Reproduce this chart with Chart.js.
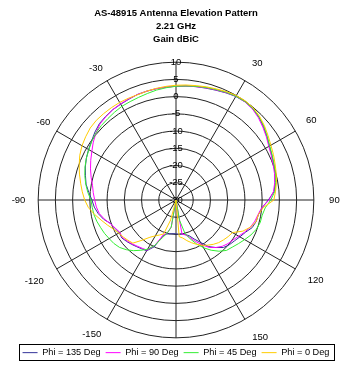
<!DOCTYPE html>
<html>
<head>
<meta charset="utf-8">
<script src="https://cdn.jsdelivr.net/npm/chart.js@4/dist/chart.umd.min.js"></script>
<style>
  html, body { margin: 0; padding: 0; background: #fff; }
  #wrap { width: 350px; height: 371px; }
</style>
</head>
<body>
<div id="wrap"><canvas id="chart" width="350" height="371"></canvas></div>
<script>
// elevation angle, clockwise from top, 5 deg steps
const angles = [
  0, 5, 10, 15, 20, 25, 30, 35, 40, 45, 50, 55, 60, 65, 70, 75, 80, 85,
  90, 95, 100, 105, 110, 115, 120, 125, 130, 135, 140, 145, 150, 155, 160, 165, 170, 175,
  180, -175, -170, -165, -160, -155, -150, -145, -140, -135, -130, -125, -120, -115, -110, -105, -100, -95,
  -90, -85, -80, -75, -70, -65, -60, -55, -50, -45, -40, -35, -30, -25, -20, -15, -10, -5
];

// gain in dBiC, same order as angles
const phi135 = [
  3.0, 3.2, 3.4, 3.6, 3.9, 4.3, 4.7, 4.8, 4.6, 4.0, 3.1, 2.2, 1.3, 0.7, 0.2, -0.2, -0.8, -1.4,
  -3.2, -4.9, -5.7, -5.9, -6.5, -7.8, -8.6, -9.3, -9.8, -10.5, -12.0, -13.5, -15.8, -17.5, -19.0, -19.6, -20.0, -20.0,
  -20.2, -20.2, -20.0, -19.8, -19.0, -15.0, -13.0, -12.7, -12.3, -11.8, -11.3, -10.8, -11.0, -10.5, -9.9, -8.3, -7.1, -6.2,
  -5.6, -4.6, -3.5, -2.8, -2.0, -1.3, -0.7, -0.1, 0.7, 1.4, 1.7, 2.0, 2.1, 2.3, 2.6, 2.7, 2.8, 2.9
];
const phi90 = [
  3.0, 3.2, 3.4, 3.7, 4.0, 4.4, 4.8, 4.8, 4.5, 3.8, 2.9, 2.0, 1.1, 0.5, 0.0, -0.4, -0.9, -1.6,
  -3.0, -5.0, -5.8, -6.3, -7.0, -8.0, -9.0, -9.8, -10.3, -11.0, -12.0, -13.2, -15.0, -16.8, -18.5, -19.5, -20.0, -30,
  -30, -30, -22, -20, -19.2, -15.5, -13.2, -12.9, -12.5, -12.0, -11.5, -11.0, -11.2, -10.6, -9.8, -8.5, -7.4, -6.8,
  -6.4, -5.9, -5.4, -4.5, -3.6, -2.7, -1.8, -0.7, 0.3, 1.2, 1.6, 2.0, 2.2, 2.4, 2.6, 2.7, 2.8, 2.9
];
const phi45 = [
  3.0, 3.2, 3.5, 3.8, 4.1, 4.5, 4.8, 4.9, 4.7, 4.1, 3.3, 2.3, 1.4, 0.8, 0.3, -0.1, -0.6, -1.2,
  -2.5, -4.0, -4.6, -4.7, -5.2, -6.0, -7.0, -7.9, -8.7, -9.3, -10.6, -12.2, -14.0, -16.0, -18.0, -20.0, -24, -30,
  -30, -30, -22, -20, -18.3, -15.5, -13.5, -12.2, -10.8, -9.6, -8.6, -8.0, -7.6, -7.1, -6.7, -6.2, -5.8, -5.6,
  -5.3, -4.3, -3.4, -2.6, -1.9, -1.3, -0.8, -0.2, 0.3, 0.6, 0.8, 1.1, 1.4, 1.5, 1.7, 2.0, 2.4, 2.7
];
const phi0 = [
  3.3, 3.5, 3.7, 4.0, 4.3, 4.7, 5.0, 5.1, 4.9, 4.3, 3.5, 2.6, 1.8, 1.2, 0.6, 0.1, -0.4, -1.0,
  -1.6, -4.6, -5.7, -5.9, -7.0, -8.6, -11.1, -11.5, -12.0, -12.5, -13.2, -14.0, -14.8, -15.8, -16.8, -17.8, -18.8, -19.3,
  -30, -30, -30, -24, -19.5, -18.8, -18.0, -16.8, -14.8, -12.3, -11.8, -11.3, -10.8, -10.0, -8.8, -7.5, -6.0, -4.5,
  -3.5, -2.7, -1.9, -1.0, -0.1, 0.8, 1.5, 2.0, 2.5, 2.7, 2.7, 2.7, 2.7, 2.6, 2.5, 2.7, 2.9, 3.1
];

const seriesNames = ['Phi = 135 Deg', 'Phi = 90 Deg', 'Phi = 45 Deg', 'Phi = 0 Deg'];
const seriesColors = ['#333399', '#ff00ff', '#33ee33', '#ffcc00'];
const ringMin = -30;
const ringMax = 10;
const ringStep = 5;

// distance of each spoke label from the outer ring (excel centres them, chart.js anchors them)
const labelGap = { '30': 9.5, '60': 7.5, '90': 10.5, '120': 9.5, '150': 10, '-150': 7, '-120': 10, '-90': 8, '-60': 2.5, '-30': 4 };

Chart.defaults.font.family = 'Arial, "Liberation Sans", sans-serif';
Chart.defaults.color = '#000';

// spokes and their labels only every 30 deg
function isSpoke(i) {
  return angles[i] % 30 === 0;
}
function hasLabel(i) {
  return isSpoke(i) && angles[i] !== 0 && angles[i] !== 180;
}

// box around the legend, like the excel one
const legendBox = {
  id: 'legendBox',
  afterDraw(chart) {
    const boxes = chart.legend && chart.legend.legendHitBoxes;
    if (!boxes || !boxes.length) return;
    let l = Infinity, r = -Infinity, t = Infinity, b = -Infinity;
    boxes.forEach(h => {
      l = Math.min(l, h.left);
      r = Math.max(r, h.left + h.width);
      t = Math.min(t, h.top);
      b = Math.max(b, h.top + h.height);
    });
    const ctx = chart.ctx;
    ctx.save();
    ctx.strokeStyle = '#000';
    ctx.lineWidth = 1;
    ctx.strokeRect(Math.round(l - 4) + 0.5, Math.round(t - 4) + 0.5, Math.round(r - l + 8), Math.round(b - t + 7));
    ctx.restore();
  }
};

const datasets = [phi135, phi90, phi45, phi0].map((values, i) => ({
  label: seriesNames[i],
  data: values,
  borderColor: seriesColors[i],
  backgroundColor: seriesColors[i],
  borderWidth: 1,
  fill: false,
  pointRadius: 0,
  tension: 0,
  order: 3 - i
}));

new Chart(document.getElementById('chart'), {
  type: 'radar',
  data: { labels: angles.map(String), datasets: datasets },
  options: {
    responsive: false,
    animation: false,
    layout: { padding: { left: 2, bottom: 3.75 } },
    plugins: {
      tooltip: { enabled: false },
      title: {
        display: true,
        text: ['AS-48915 Antenna Elevation Pattern', '2.21 GHz', 'Gain dBiC'],
        color: '#000',
        font: { size: 9.5, weight: 'bold', lineHeight: 1.33 },
        padding: { top: 7.4, bottom: 12 }
      },
      legend: {
        position: 'bottom',
        labels: {
          usePointStyle: true,
          pointStyle: 'line',
          pointStyleWidth: 15,
          color: '#000',
          font: { size: 9.2 },
          padding: 5,
          sort: (a, b) => a.datasetIndex - b.datasetIndex
        }
      }
    },
    scales: {
      r: {
        min: ringMin,
        max: ringMax,
        ticks: {
          stepSize: ringStep,
          color: '#000',
          font: { size: 9.5 },
          showLabelBackdrop: false,
          backdropPadding: 0
        },
        grid: { circular: true, color: '#222', lineWidth: 1 },
        angleLines: {
          color: '#222',
          lineWidth: ctx => isSpoke(ctx.index) ? 1 : 0
        },
        pointLabels: {
          color: '#000',
          callback: (label, i) => hasLabel(i) ? label : '',
          font: ctx => ({ size: hasLabel(ctx.index) ? 9.5 : 0.1, lineHeight: 1 }),
          padding: ctx => hasLabel(ctx.index) ? labelGap[String(angles[ctx.index])] : 0
        }
      }
    }
  },
  plugins: [legendBox]
});
</script>
</body>
</html>
